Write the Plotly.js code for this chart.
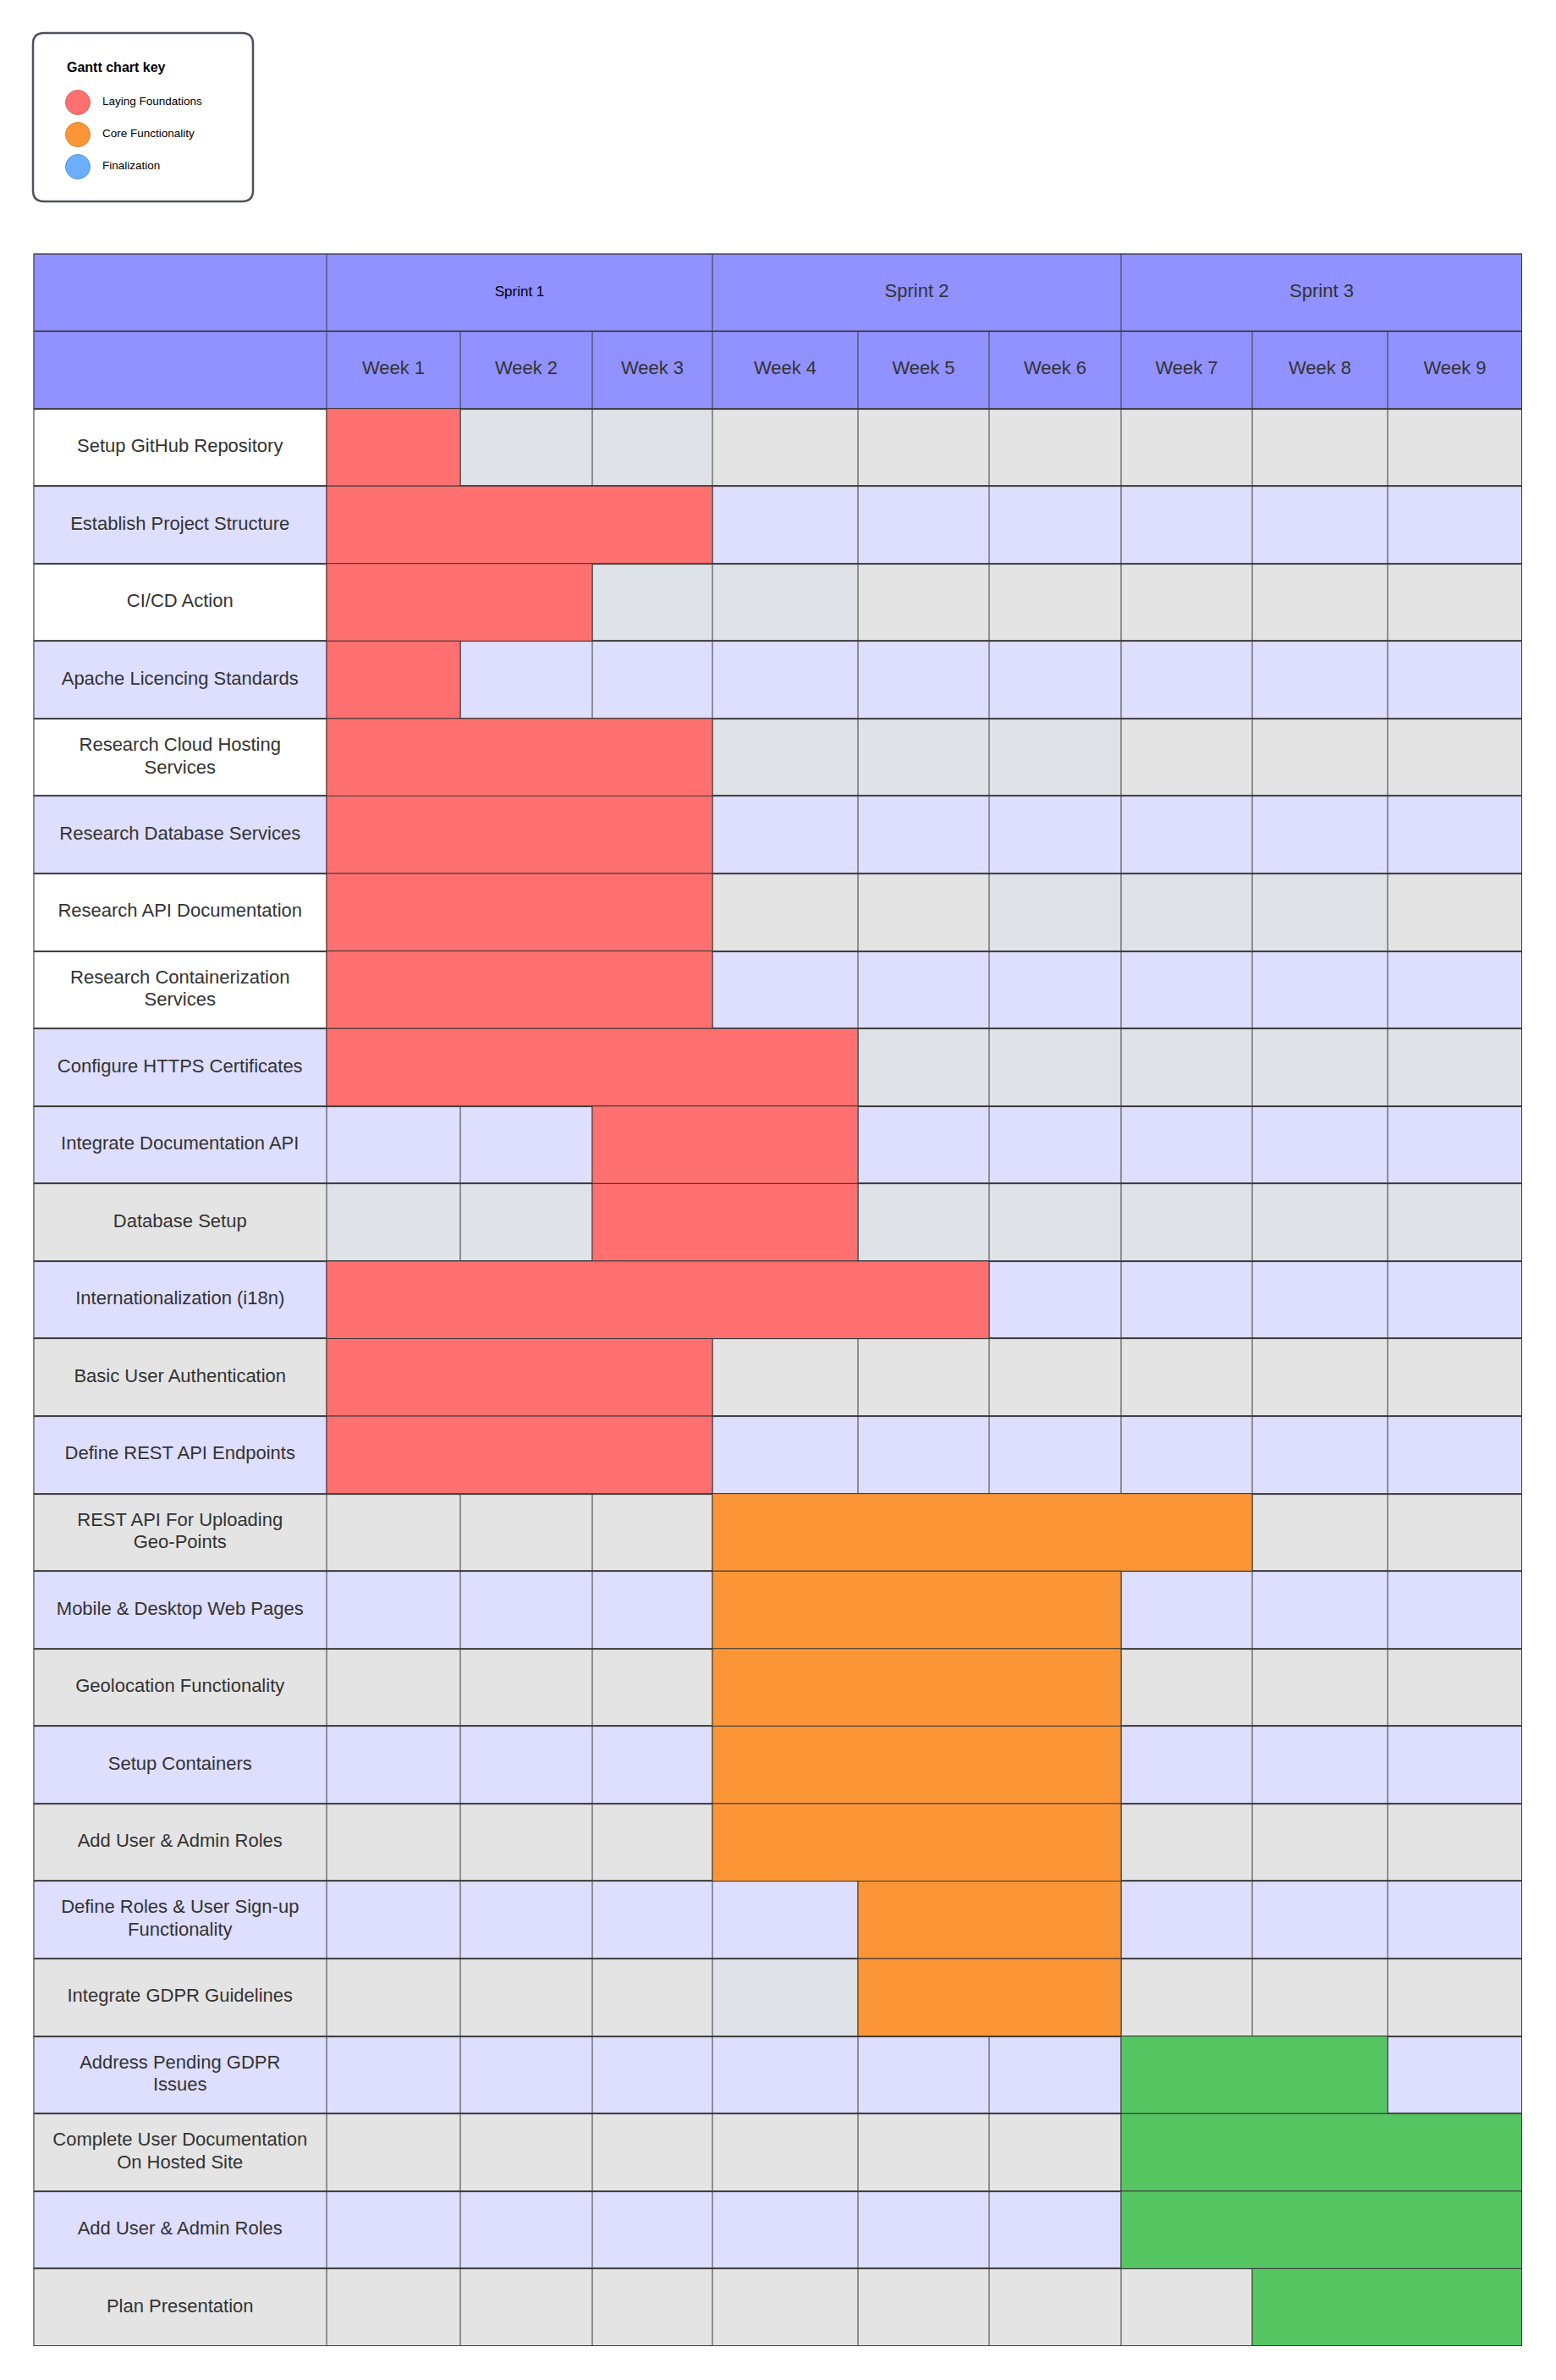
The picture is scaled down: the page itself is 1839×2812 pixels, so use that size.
<!DOCTYPE html>
<html>
<head>
<meta charset="utf-8">
<script src="https://cdn.plot.ly/plotly-3.0.1.min.js"></script>
<style>
  html, body { margin: 0; padding: 0; background: #ffffff; }
  #chart { width: 1839px; height: 2812px; }
</style>
</head>
<body>
<div id="chart"></div>
<script>
// ---------------- DATA ----------------
const tasks = [
  'Setup GitHub Repository',
  'Establish Project Structure',
  'CI/CD Action',
  'Apache Licencing Standards',
  'Research Cloud Hosting<br>Services',
  'Research Database Services',
  'Research API Documentation',
  'Research Containerization<br>Services',
  'Configure HTTPS Certificates',
  'Integrate Documentation API',
  'Database Setup',
  'Internationalization (i18n)',
  'Basic User Authentication',
  'Define REST API Endpoints',
  'REST API For Uploading<br>Geo-Points',
  'Mobile & Desktop Web Pages',
  'Geolocation Functionality',
  'Setup Containers',
  'Add User & Admin Roles',
  'Define Roles & User Sign-up<br>Functionality',
  'Integrate GDPR Guidelines',
  'Address Pending GDPR<br>Issues',
  'Complete User Documentation<br>On Hosted Site',
  'Add User & Admin Roles',
  'Plan Presentation'
];
const startWeek = [1,1,1,1,1,1,1,1,1,3,3,1,1,1,4,4,4,4,4,5,5,7,7,7,8];
const endWeek   = [1,3,2,1,3,3,3,3,4,4,4,5,3,3,7,6,6,6,6,6,6,8,9,9,9];
const taskPhase = [0,0,0,0,0,0,0,0,0,0,0,0,0,0,1,1,1,1,1,1,1,2,2,2,2];
const phases = ['Laying Foundations', 'Core Functionality', 'Finalization'];
const weeks = ['Week 1','Week 2','Week 3','Week 4','Week 5','Week 6','Week 7','Week 8','Week 9'];
const sprints = ['Sprint 1','Sprint 2','Sprint 3'];
const weeksPerSprint = 3;
const keyTitle = 'Gantt chart key';

// background shade codes: 0 white, 1 lavender, 2 gray, 3 blue-gray, 4 header
const labelShade = [0,1,0,1,0,1,0,0,1,1,2,1,2,1,2,1,2,1,2,1,2,1,2,1,2];
const rowShade   = [2,1,2,1,2,1,2,1,2,1,2,1,2,1,2,1,2,1,2,1,2,1,2,1,2];
// [task row (1-based), week (1-based)] cells drawn in blue-gray
const blueGrayCells = [
  [1,2],[1,3],[3,3],[3,4],[5,4],[5,5],[5,6],[7,6],[7,7],[7,8],
  [9,5],[9,6],[9,7],[9,8],[9,9],
  [11,1],[11,2],[11,5],[11,6],[11,7],[11,8],[11,9],[21,4]
];

// ---------------- STYLE / LAYOUT ----------------
const W = 1839, H = 2812;
const tableLeftPx = 39.5, tableRightPx = 1799, tableTopPx = 299.5, tableBottomPx = 2772;
const labelColWidth = 346.5;
const weekColWidths = [158,156,142,172,155,156,155,160,159];
const shadeColors = ['#ffffff', '#dedeff', '#e4e4e4', '#dfe2e6', '#9191ff'];
const phaseBarColors = ['#ff7070', '#fc9535', '#55c562'];
const keyColors = ['#ff7070', '#fc9535', '#6aaefc'];
const keyEdgeColors = ['#d96060', '#d98030', '#5a94d6'];
const gridColor = '#3a3a3a';
const FONT = 'Liberation Sans, Arial, Helvetica, sans-serif';
const labelLineHeightPx = 26.7;

// column edges (x units = px inside the table)
const colEdges = [0, labelColWidth];
weekColWidths.forEach(w => colEdges.push(colEdges[colEdges.length - 1] + w));
const tableWidth = colEdges[colEdges.length - 1];
const sprintEdges = [0, labelColWidth];
for (let s = 1; s <= sprints.length; s++) sprintEdges.push(colEdges[1 + s * weeksPerSprint]);

// rows: y = -2 sprint header, -1 week header, 0..24 tasks
const nRows = tasks.length;
const yTop = -2.5, yBottom = nRows - 0.5;
const rowPx = (tableBottomPx - tableTopPx) / (nRows + 2);
const lineStep = labelLineHeightPx / rowPx;

// body heatmap (week header + tasks)
const bodyYEdges = [];
for (let r = -1; r <= nRows; r++) bodyYEdges.push(r - 0.5);
const bodyZ = [];
bodyZ.push(new Array(1 + weeks.length).fill(4));
for (let r = 0; r < nRows; r++) {
  const row = [labelShade[r]];
  for (let w = 1; w <= weeks.length; w++) row.push(rowShade[r]);
  bodyZ.push(row);
}
blueGrayCells.forEach(([r, w]) => { bodyZ[r][w] = 3; });

const shadeScale = [];
shadeColors.forEach((c, i) => {
  shadeScale.push([i / shadeColors.length, c]);
  shadeScale.push([(i + 1) / shadeColors.length, c]);
});

const traces = [];
traces.push({
  type: 'heatmap', x: colEdges, y: bodyYEdges, z: bodyZ,
  zmin: -0.5, zmax: shadeColors.length - 0.5, colorscale: shadeScale,
  showscale: false, xgap: 1, ygap: 2, hoverinfo: 'skip', zsmooth: false,
  xaxis: 'x', yaxis: 'y'
});
traces.push({
  type: 'heatmap', x: sprintEdges, y: [yTop, yTop + 1],
  z: [new Array(1 + sprints.length).fill(4)],
  zmin: -0.5, zmax: shadeColors.length - 0.5, colorscale: shadeScale,
  showscale: false, xgap: 1, ygap: 2, hoverinfo: 'skip', zsmooth: false,
  xaxis: 'x', yaxis: 'y'
});

// task bars, one trace per phase
phases.forEach((p, pi) => {
  const ys = [], bases = [], lens = [];
  for (let i = 0; i < nRows; i++) {
    if (taskPhase[i] !== pi) continue;
    const b = colEdges[startWeek[i]];
    const e = colEdges[endWeek[i] + 1];
    ys.push(i); bases.push(b); lens.push(e - b);
  }
  traces.push({
    type: 'bar', orientation: 'h', name: p, y: ys, x: lens, base: bases,
    width: 1, marker: { color: phaseBarColors[pi], line: { color: gridColor, width: 1 } },
    showlegend: false, hoverinfo: 'skip', xaxis: 'x', yaxis: 'y'
  });
});

// row labels (each wrapped line placed separately for tighter line spacing)
const lblX = [], lblY = [], lblT = [];
tasks.forEach((t, i) => {
  const lines = t.split('<br>');
  lines.forEach((ln, j) => {
    lblX.push(labelColWidth / 2);
    lblY.push(i + (j - (lines.length - 1) / 2) * lineStep);
    lblT.push(ln);
  });
});
traces.push({
  type: 'scatter', mode: 'text', x: lblX, y: lblY, text: lblT,
  textposition: 'middle center',
  textfont: { family: FONT, size: 22, color: '#333333' },
  hoverinfo: 'skip', showlegend: false, xaxis: 'x', yaxis: 'y'
});
// week headers
traces.push({
  type: 'scatter', mode: 'text',
  x: weeks.map((w, k) => (colEdges[k + 1] + colEdges[k + 2]) / 2),
  y: weeks.map(() => -1),
  text: weeks, textposition: 'middle center',
  textfont: { family: FONT, size: 22, color: '#333333' },
  hoverinfo: 'skip', showlegend: false, xaxis: 'x', yaxis: 'y'
});
// sprint headers
traces.push({
  type: 'scatter', mode: 'text',
  x: sprints.map((s, k) => (sprintEdges[k + 1] + sprintEdges[k + 2]) / 2),
  y: sprints.map(() => -2),
  text: sprints, textposition: 'middle center',
  textfont: { family: FONT, size: sprints.map((s, k) => k === 0 ? 17 : 22),
              color: sprints.map((s, k) => k === 0 ? '#000000' : '#333333') },
  hoverinfo: 'skip', showlegend: false, xaxis: 'x', yaxis: 'y'
});

// ---------------- KEY (own axes, px units inside the box) ----------------
const keyBox = { left: 39, right: 299, top: 39, bottom: 238, radius: 13 };
const keyTitlePos = { x: 40, y: 42 };
const keyMarkerX = 53, keyLabelX = 82, keyFirstY = 82, keyRowGap = 38;
traces.push({
  type: 'scatter', mode: 'markers',
  x: phases.map(() => keyMarkerX), y: phases.map((p, i) => keyFirstY + i * keyRowGap),
  marker: { size: 29, color: keyColors, line: { color: keyEdgeColors, width: 1 } },
  hoverinfo: 'skip', showlegend: false, xaxis: 'x2', yaxis: 'y2', cliponaxis: false
});
traces.push({
  type: 'scatter', mode: 'text',
  x: phases.map(() => keyLabelX), y: phases.map((p, i) => keyFirstY + i * keyRowGap),
  text: phases, textposition: 'middle right', marker: { size: 1 },
  textfont: { family: FONT, size: 13.5, color: '#000000' },
  hoverinfo: 'skip', showlegend: false, xaxis: 'x2', yaxis: 'y2', cliponaxis: false
});
traces.push({
  type: 'scatter', mode: 'text',
  x: [keyTitlePos.x], y: [keyTitlePos.y],
  text: ['<b>' + keyTitle + '</b>'], textposition: 'middle right', marker: { size: 1 },
  textfont: { family: FONT, size: 16, color: '#000000' },
  hoverinfo: 'skip', showlegend: false, xaxis: 'x2', yaxis: 'y2', cliponaxis: false
});

// rounded key box path (paper coords)
function px(x) { return (x / W).toFixed(6); }
function py(y) { return (1 - y / H).toFixed(6); }
const kb = keyBox, rr = kb.radius;
const keyPath =
  'M' + px(kb.left + rr) + ',' + py(kb.top) +
  ' L' + px(kb.right - rr) + ',' + py(kb.top) +
  ' Q' + px(kb.right) + ',' + py(kb.top) + ' ' + px(kb.right) + ',' + py(kb.top + rr) +
  ' L' + px(kb.right) + ',' + py(kb.bottom - rr) +
  ' Q' + px(kb.right) + ',' + py(kb.bottom) + ' ' + px(kb.right - rr) + ',' + py(kb.bottom) +
  ' L' + px(kb.left + rr) + ',' + py(kb.bottom) +
  ' Q' + px(kb.left) + ',' + py(kb.bottom) + ' ' + px(kb.left) + ',' + py(kb.bottom - rr) +
  ' L' + px(kb.left) + ',' + py(kb.top + rr) +
  ' Q' + px(kb.left) + ',' + py(kb.top) + ' ' + px(kb.left + rr) + ',' + py(kb.top) + ' Z';

const hiddenAxis = { visible: false, showgrid: false, zeroline: false, fixedrange: true };

const layout = {
  width: W, height: H,
  margin: { l: 0, r: 0, t: 0, b: 0, pad: 0 },
  paper_bgcolor: '#ffffff', plot_bgcolor: 'rgba(0,0,0,0)',
  showlegend: false, hovermode: false, barmode: 'overlay',
  xaxis: Object.assign({}, hiddenAxis, {
    domain: [tableLeftPx / W, tableRightPx / W], range: [0, tableWidth], anchor: 'y'
  }),
  yaxis: Object.assign({}, hiddenAxis, {
    domain: [1 - tableBottomPx / H, 1 - tableTopPx / H], range: [yBottom, yTop], anchor: 'x'
  }),
  xaxis2: Object.assign({}, hiddenAxis, {
    domain: [keyBox.left / W, keyBox.right / W], range: [0, keyBox.right - keyBox.left], anchor: 'y2'
  }),
  yaxis2: Object.assign({}, hiddenAxis, {
    domain: [1 - keyBox.bottom / H, 1 - keyBox.top / H], range: [keyBox.bottom - keyBox.top, 0], anchor: 'x2'
  }),
  shapes: [
    { type: 'rect', xref: 'x', yref: 'y', x0: 0, x1: tableWidth, y0: yTop, y1: yBottom,
      fillcolor: gridColor, line: { width: 0 }, layer: 'below' },
    { type: 'rect', xref: 'x', yref: 'y', x0: 0, x1: tableWidth, y0: yTop, y1: yBottom,
      fillcolor: 'rgba(0,0,0,0)', line: { color: gridColor, width: 2 }, layer: 'above' },
    { type: 'path', xref: 'paper', yref: 'paper', path: keyPath,
      fillcolor: 'rgba(0,0,0,0)', line: { color: '#4d525e', width: 2.5 }, layer: 'above' }
  ]
};

Plotly.newPlot('chart', traces, layout, { staticPlot: true, displayModeBar: false });
</script>
</body>
</html>
